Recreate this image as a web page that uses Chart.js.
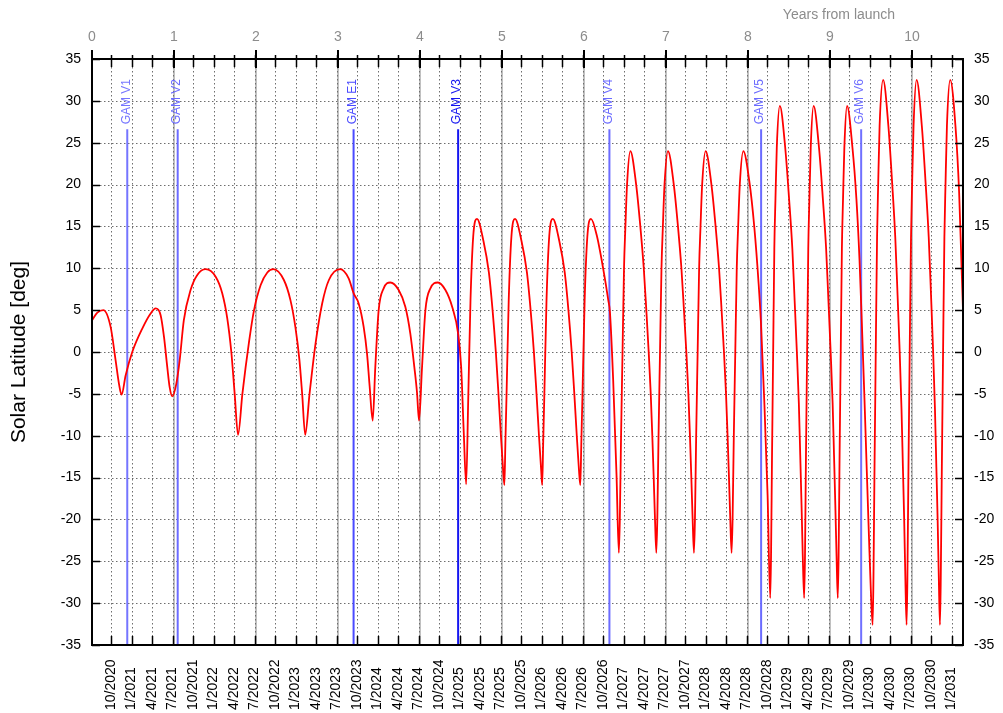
<!DOCTYPE html>
<html>
<head>
<meta charset="utf-8">
<title>Solar Latitude</title>
<script src="https://cdn.jsdelivr.net/npm/chart.js@4.4.1/dist/chart.umd.min.js"></script>
<style>
  html, body { margin: 0; padding: 0; background: #fff; }
  #wrap { width: 1003px; height: 713px; }
</style>
</head>
<body>
<div id="wrap"><canvas id="latChart" width="1003" height="713"></canvas></div>
<script>
// curve: years from launch / solar latitude in degrees
const yearsFromLaunch = [
  0.000, 0.065, 0.138, 0.227, 0.288, 0.329, 0.361, 0.410, 0.491, 0.613, 0.715, 0.776,
  0.837, 0.878, 0.918, 0.947, 0.979, 1.028, 1.069, 1.120, 1.202, 1.284, 1.386,
  1.508, 1.589, 1.650, 1.699, 1.740, 1.781, 1.834, 1.915, 1.976, 2.057, 2.138, 2.211,
  2.340, 2.420, 2.480, 2.530, 2.563, 2.600, 2.653, 2.726, 2.807, 2.889, 3.025,
  3.130, 3.191, 3.252, 3.313, 3.354, 3.386, 3.423, 3.455, 3.496, 3.557, 3.638,
  3.740, 3.821, 3.882, 3.931, 3.964, 3.988, 4.025, 4.066, 4.127, 4.217,
  4.310, 4.392, 4.465, 4.502, 4.534, 4.563, 4.588, 4.616, 4.649, 4.695,
  4.775, 4.840, 4.885, 4.925, 4.957, 4.987, 5.013, 5.029, 5.041, 5.054, 5.082, 5.115, 5.159,
  5.239, 5.304, 5.349, 5.389, 5.421, 5.451, 5.477, 5.490, 5.502, 5.515, 5.543, 5.576, 5.620,
  5.700, 5.765, 5.810, 5.850, 5.882, 5.912, 5.938, 5.955, 5.967, 5.980, 6.008, 6.041, 6.085,
  6.154, 6.235, 6.296, 6.316, 6.356, 6.397, 6.425, 6.437, 6.452, 6.470, 6.488, 6.505, 6.525, 6.565,
  6.636, 6.687, 6.729, 6.760, 6.789, 6.814, 6.833, 6.850, 6.866, 6.882,
  6.894, 6.909, 6.927, 6.945, 6.962, 6.982, 7.024,
  7.095, 7.146, 7.188, 7.219, 7.248, 7.273, 7.292, 7.309, 7.325, 7.341,
  7.353, 7.368, 7.386, 7.404, 7.421, 7.441, 7.483,
  7.554, 7.605, 7.647, 7.678, 7.707, 7.732, 7.751, 7.768, 7.784, 7.800,
  7.812, 7.827, 7.845, 7.863, 7.880, 7.900, 7.943,
  8.016, 8.077, 8.130, 8.158, 8.198, 8.239, 8.271,
  8.281, 8.293, 8.307, 8.321, 8.335, 8.351, 8.388,
  8.454, 8.501, 8.541, 8.569, 8.596, 8.620, 8.637, 8.653, 8.668, 8.685,
  8.695, 8.707, 8.721, 8.735, 8.749, 8.765, 8.800,
  8.866, 8.913, 8.953, 8.981, 9.008, 9.032, 9.049, 9.065, 9.080, 9.095,
  9.105, 9.117, 9.131, 9.145, 9.159, 9.175, 9.208,
  9.274, 9.322, 9.360, 9.390, 9.420, 9.448, 9.475, 9.498, 9.520,
  9.530, 9.543, 9.558, 9.574, 9.588, 9.605, 9.648,
  9.712, 9.758, 9.796, 9.824, 9.850, 9.872, 9.889, 9.905, 9.919, 9.934,
  9.944, 9.957, 9.972, 9.988, 10.002, 10.019, 10.056,
  10.120, 10.166, 10.204, 10.232, 10.258, 10.280, 10.297, 10.313, 10.327, 10.341,
  10.351, 10.364, 10.379, 10.395, 10.409, 10.426, 10.466,
  10.530, 10.575, 10.605, 10.622
];
const solarLatitude = [
  3.8, 4.7, 5.0, 3.0, -1.0, -3.8, -5.1, -2.8, 0.0, 2.8, 4.6, 5.2,
  4.4, 1.8, -1.8, -4.2, -5.3, -3.8, -1.0, 3.8, 7.4, 9.2, 9.9,
  9.0, 7.0, 4.0, 0.0, -5.0, -9.9, -5.0, 1.2, 5.0, 8.0, 9.5, 9.9,
  8.6, 6.2, 3.0, -1.0, -5.0, -9.9, -5.0, 1.0, 5.8, 8.6, 9.9,
  8.8, 7.0, 5.8, 3.0, -0.2, -4.1, -8.2, -1.8, 5.0, 7.6, 8.3,
  7.4, 5.4, 2.2, -1.8, -4.9, -8.2, -1.8, 5.0, 7.6, 8.3,
  7.4, 5.4, 2.2, -1.8, -9.7, -15.8, -5.7, 6.2, 13.8, 15.9,
  13.2, 9.5, 5.0, 0.0, -5.0, -10.0, -14.0, -15.9, -11.0, -5.7, 6.2, 13.8, 15.9,
  13.2, 9.5, 5.0, 0.0, -5.0, -10.0, -14.0, -15.9, -11.0, -5.7, 6.2, 13.8, 15.9,
  13.2, 9.5, 5.0, 0.0, -5.0, -10.0, -14.0, -15.9, -11.0, -5.7, 6.2, 13.8, 15.9,
  14.0, 9.9, 6.2, 4.8, -3.4, -14.8, -24.0, -20.0, -10.0, 0.0, 10.0, 15.0, 20.0, 24.0,
  20.0, 15.0, 10.0, 5.0, 0.0, -5.0, -10.0, -15.0, -20.0, -24.0,
  -20.0, -10.0, 0.0, 10.0, 15.0, 20.0, 24.0,
  20.0, 15.0, 10.0, 5.0, 0.0, -5.0, -10.0, -15.0, -20.0, -24.0,
  -20.0, -10.0, 0.0, 10.0, 15.0, 20.0, 24.0,
  20.0, 15.0, 10.0, 5.0, 0.0, -5.0, -10.0, -15.0, -20.0, -24.0,
  -20.0, -10.0, 0.0, 10.0, 15.0, 20.0, 24.0,
  20.4, 14.9, 8.1, 3.5, -5.7, -17.1, -29.4,
  -24.4, -12.3, 0.0, 12.3, 18.3, 24.4, 29.4,
  24.4, 18.3, 12.3, 6.1, 0.0, -6.1, -12.3, -18.3, -24.4, -29.4,
  -24.4, -12.3, 0.0, 12.3, 18.3, 24.4, 29.4,
  24.4, 18.3, 12.3, 6.1, 0.0, -6.1, -12.3, -18.3, -24.4, -29.4,
  -24.4, -12.3, 0.0, 12.3, 18.3, 24.4, 29.4,
  24.4, 18.3, 11.0, 3.0, -5.5, -14.0, -22.0, -28.5, -32.6,
  -27.0, -13.7, 0.0, 13.7, 20.2, 27.0, 32.5,
  27.0, 20.2, 13.7, 6.8, 0.0, -6.8, -13.7, -20.2, -27.0, -32.6,
  -27.0, -13.7, 0.0, 13.7, 20.2, 27.0, 32.5,
  27.0, 20.2, 13.7, 6.8, 0.0, -6.8, -13.7, -20.2, -27.0, -32.6,
  -27.0, -13.7, 0.0, 13.7, 20.2, 27.0, 32.5,
  27.0, 19.0, 10.0, 5.0
];

// gravity assist manoeuvres
const gamNames = ["GAM V1", "GAM V2", "GAM E1", "GAM V3", "GAM V4", "GAM V5", "GAM V6"];
const gamYears = [0.43, 1.045, 3.19, 4.465, 6.31, 8.16, 9.38];

// axis labels
const dateLabels = [
  "10/2020", "1/2021", "4/2021", "7/2021", "10/2021", "1/2022", "4/2022", "7/2022",
  "10/2022", "1/2023", "4/2023", "7/2023", "10/2023", "1/2024", "4/2024", "7/2024",
  "10/2024", "1/2025", "4/2025", "7/2025", "10/2025", "1/2026", "4/2026", "7/2026",
  "10/2026", "1/2027", "4/2027", "7/2027", "10/2027", "1/2028", "4/2028", "7/2028",
  "10/2028", "1/2029", "4/2029", "7/2029", "10/2029", "1/2030", "4/2030", "7/2030",
  "10/2030", "1/2031"
];
const yearLabels = [0, 1, 2, 3, 4, 5, 6, 7, 8, 9, 10];
const latTicks = [-35, -30, -25, -20, -15, -10, -5, 0, 5, 10, 15, 20, 25, 30, 35];

// first date tick (10/2020) sits 0.232 years after launch, then one per quarter
const firstDateTick = 0.232;
const quarterYears = dateLabels.map((_, i) => firstDateTick + i * 0.25);

const font = '"Liberation Sans", Arial, Helvetica, sans-serif';
const gamColors = ["#7575ff", "#6b6bff", "#4a4aff", "#1515f0", "#6b6bff", "#6b6bff", "#7070ff"];
const gamLineTop = 26.6;

function line(ctx, x1, y1, x2, y2) {
  ctx.beginPath();
  ctx.moveTo(x1, y1);
  ctx.lineTo(x2, y2);
  ctx.stroke();
}

const framePlugin = {
  id: "framePlugin",
  beforeDatasetsDraw(chart) {
    const { ctx, chartArea: a, scales: { x, y } } = chart;
    ctx.save();

    // solid grey lines at whole years
    ctx.strokeStyle = "#c0c0c0";
    ctx.lineWidth = 2;
    yearLabels.forEach(v => {
      if (v === 0) return;
      const px = Math.round(x.getPixelForValue(v));
      line(ctx, px, a.top, px, a.bottom);
    });

    // dotted grid
    ctx.strokeStyle = "#6e6e6e";
    ctx.lineWidth = 1;
    ctx.setLineDash([1.5, 2.5]);
    quarterYears.forEach(v => {
      const px = Math.round(x.getPixelForValue(v)) + 0.5;
      line(ctx, px, a.top, px, a.bottom);
    });
    latTicks.forEach(v => {
      if (v === -35 || v === 35) return;
      const py = Math.round(y.getPixelForValue(v)) + 0.5;
      line(ctx, a.left, py, a.right, py);
    });
    ctx.setLineDash([]);

    // GAM markers
    const top = y.getPixelForValue(gamLineTop);
    gamYears.forEach((v, i) => {
      const px = x.getPixelForValue(v);
      ctx.strokeStyle = gamColors[i];
      ctx.lineWidth = 2;
      line(ctx, px, top, px, a.bottom);
      ctx.save();
      ctx.translate(px - 1, top - 5);
      ctx.rotate(-Math.PI / 2);
      ctx.fillStyle = gamColors[i];
      ctx.font = "12px " + font;
      ctx.textAlign = "left";
      ctx.textBaseline = "middle";
      ctx.fillText(gamNames[i], 0, 0);
      ctx.restore();
    });
    ctx.restore();
  },
  afterDatasetsDraw(chart) {
    const { ctx, chartArea: a, scales: { x, y } } = chart;
    ctx.save();
    ctx.strokeStyle = "#000";
    ctx.lineWidth = 2;
    ctx.strokeRect(a.left, a.top, a.right - a.left, a.bottom - a.top);

    // ticks
    ctx.lineWidth = 1.5;
    latTicks.forEach(v => {
      const py = Math.round(y.getPixelForValue(v)) + 0.5;
      line(ctx, a.left, py, a.left + 8, py);
      line(ctx, a.right - 8, py, a.right, py);
    });
    quarterYears.forEach(v => {
      const px = Math.round(x.getPixelForValue(v)) + 0.5;
      line(ctx, px, a.bottom, px, a.bottom - 9);
      line(ctx, px, a.top - 4, px, a.top + 8);
    });
    ctx.lineWidth = 2;
    yearLabels.forEach(v => {
      const px = Math.round(x.getPixelForValue(v));
      line(ctx, px, a.top - 9, px, a.top + 9);
    });

    // y labels, both sides
    ctx.fillStyle = "#000";
    ctx.font = "14px " + font;
    ctx.textBaseline = "middle";
    latTicks.forEach(v => {
      const py = y.getPixelForValue(v);
      ctx.textAlign = "right";
      ctx.fillText(String(v), a.left - 11, py);
      ctx.textAlign = "left";
      ctx.fillText(String(v), a.right + 11, py);
    });

    // top axis: years from launch
    ctx.fillStyle = "#8c8c8c";
    ctx.textAlign = "center";
    yearLabels.forEach(v => {
      ctx.fillText(String(v), x.getPixelForValue(v), a.top - 22);
    });
    ctx.fillText("Years from launch", 839, 15);

    // bottom axis: dates, rotated
    ctx.fillStyle = "#000";
    quarterYears.forEach((v, i) => {
      ctx.save();
      ctx.translate(x.getPixelForValue(v), 710);
      ctx.rotate(-Math.PI / 2);
      ctx.textAlign = "left";
      ctx.fillText(dateLabels[i], 0, 0);
      ctx.restore();
    });

    // y title
    ctx.save();
    ctx.translate(19, (a.top + a.bottom) / 2);
    ctx.rotate(-Math.PI / 2);
    ctx.font = "21px " + font;
    ctx.textAlign = "center";
    ctx.fillText("Solar Latitude [deg]", 0, 0);
    ctx.restore();

    ctx.restore();
  }
};

const points = yearsFromLaunch.map((t, i) => ({ x: t, y: solarLatitude[i] }));

new Chart(document.getElementById("latChart"), {
  type: "line",
  data: {
    datasets: [{
      data: points,
      borderColor: "#ff0000",
      borderWidth: 1.8,
      pointRadius: 0,
      fill: false,
      cubicInterpolationMode: "monotone"
    }]
  },
  options: {
    responsive: false,
    devicePixelRatio: 1,
    animation: false,
    layout: { padding: { left: 92, right: 40, top: 59, bottom: 68 } },
    plugins: { legend: { display: false }, tooltip: { enabled: false } },
    scales: {
      x: { type: "linear", min: 0, max: 10.622, display: false },
      y: { type: "linear", min: -35, max: 35, display: false }
    }
  },
  plugins: [framePlugin]
});
</script>
</body>
</html>
